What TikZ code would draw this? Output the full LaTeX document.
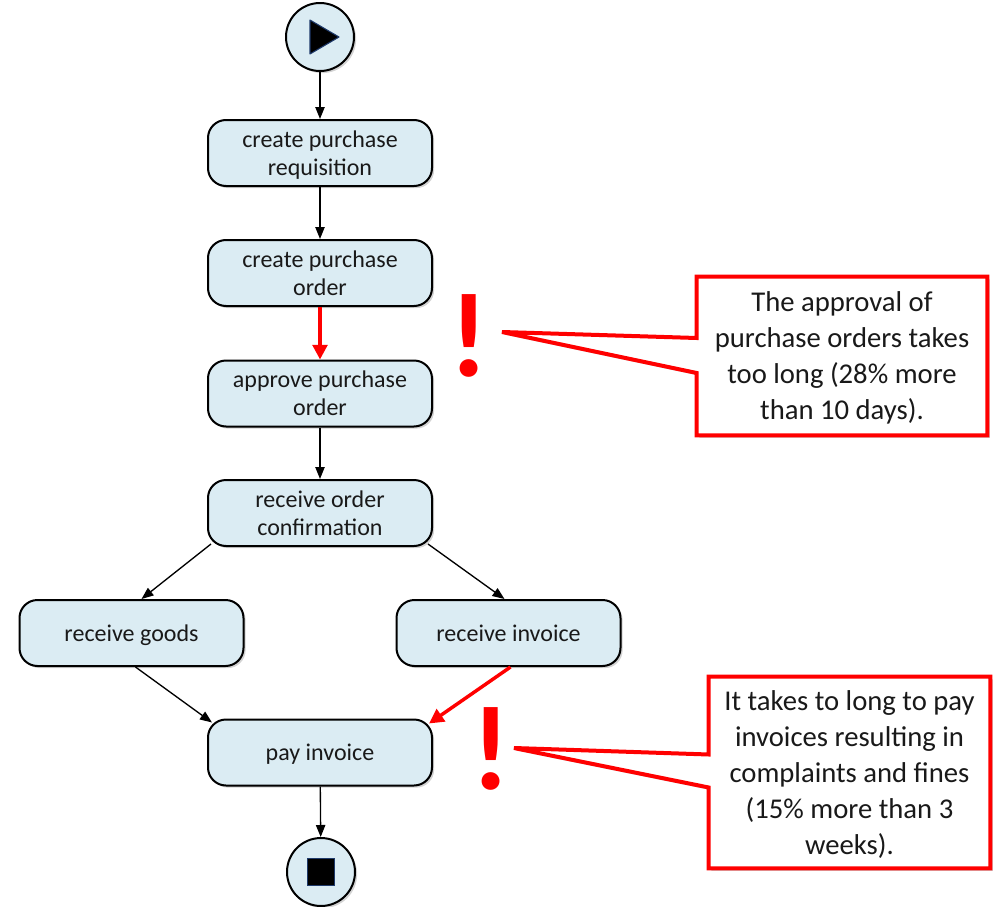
\documentclass[tikz,border=0pt]{standalone}
\usepackage{fontspec}
\setmainfont{Carlito}
\usetikzlibrary{arrows.meta,calc,shadows,backgrounds}
\definecolor{taskfill}{RGB}{219,236,243}
\definecolor{alertred}{RGB}{255,0,0}
\definecolor{markblue}{RGB}{31,58,107}
\definecolor{inktext}{RGB}{25,25,25}
\begin{document}
\begin{tikzpicture}[x=0.75pt,y=-0.75pt,
  boxshadow/.style={drop shadow={shadow xshift=1.6pt, shadow yshift=-1.6pt, opacity=0.35}},
  task/.style={draw=black, line width=1.5pt, fill=taskfill, rounded corners=13.5pt,
    minimum width=168pt, minimum height=49.5pt, align=center, inner sep=0pt,
    text depth=0pt, font=\fontsize{18}{21}\selectfont, text=inktext, boxshadow},
  terminal/.style={circle, draw=black, line width=1.5pt, fill=taskfill,
    minimum size=51pt, inner sep=0pt, boxshadow},
  flow/.style={line width=1pt, -{Triangle[length=9pt,width=7pt]}},
  alertflow/.style={line width=2.6pt, draw=alertred, -{Triangle[length=11pt,width=11pt,fill=alertred]}},
  notetext/.style={align=center, inner sep=0pt, text depth=0pt,
    font=\fontsize{21.5}{27}\selectfont, text=inktext},
  noteline/.style={draw=alertred, line width=3pt, fill=white, line join=miter,
    drop shadow={shadow xshift=2pt, shadow yshift=-2pt, opacity=0.35}},
  bang/.style={text=alertred, inner sep=0pt, anchor=base, font=\fontsize{90}{90}\selectfont\bfseries}
]
\useasboundingbox (0,0) rectangle (1001,907);

% start and end events
\node[terminal] (start) at (320,37) {};
\fill[black, draw=markblue, line width=0.8pt, line join=round]
  ($(start.center)+(-10,-17)$) -- ($(start.center)+(19,0)$) -- ($(start.center)+(-10,17)$) -- cycle;
\node[terminal] (stop) at (321,872) {};
\node[fill=black, draw=markblue, line width=0.8pt, minimum size=20pt, inner sep=0pt] (stopmark) at (stop.center) {};

% activities
\node[task] (b1) at (320,153)   {create purchase\\requisition};
\node[task] (b2) at (320,273)   {create purchase\\order};
\node[task] (b3) at (320,393.5) {approve purchase\\order};
\node[task] (b4) at (320,513)   {receive order\\confirmation};
\node[task] (b5) at (131.5,633) {receive goods};
\node[task] (b6) at (508.5,633) {receive invoice};
\node[task] (b7) at (320,752.5) {pay invoice};

% control flow
\draw[flow] (start) -- (b1);
\draw[flow] (b1) -- (b2);
\draw[alertflow] (b2) -- (b3);
\draw[flow] (b3) -- (b4);
\draw[flow] ($(b4.south west)+(4,-3)$) -- ($(b5.north)+(10,0)$);
\draw[flow] ($(b4.south east)+(-5,-3)$) -- ($(b6.north)+(-4,0)$);
\draw[flow] ($(b5.south)+(4,0)$) -- ($(b7.north west)+(5,4)$);
\draw[alertflow] ($(b6.south)+(2,0)$) -- ($(b7.north east)+(-4,5)$);
\draw[flow] (b7) -- (stop);

% problem markers
\node[bang] (ex1) at (469.5,376) {!};
\node[bang] (ex2) at (491.5,789) {!};
\coordinate (t1) at (502,332);
\coordinate (t2) at (514,748);

% callouts
\node[notetext, minimum width=217.5pt, minimum height=118.5pt] (c1) at (842,356)
  {The approval of\\purchase orders takes\\too long (28\% more\\than 10 days).};
\node[notetext, minimum width=210.75pt, minimum height=143.25pt] (c2) at (849.5,772.5)
  {It takes to long to pay\\invoices resulting in\\complaints and fines\\(15\% more than 3\\weeks).};

\begin{scope}[on background layer]
  \draw[noteline] (c1.north west) -- (c1.north east) -- (c1.south east) -- (c1.south west)
    -- ($(c1.west)+(0,17)$) -- (t1) -- ($(c1.west)+(0,-18)$) -- cycle;
  \draw[noteline] (c2.north west) -- (c2.north east) -- (c2.south east) -- (c2.south west)
    -- ($(c2.west)+(0,15)$) -- (t2) -- ($(c2.west)+(0,-18)$) -- cycle;
\end{scope}
\end{tikzpicture}
\end{document}
